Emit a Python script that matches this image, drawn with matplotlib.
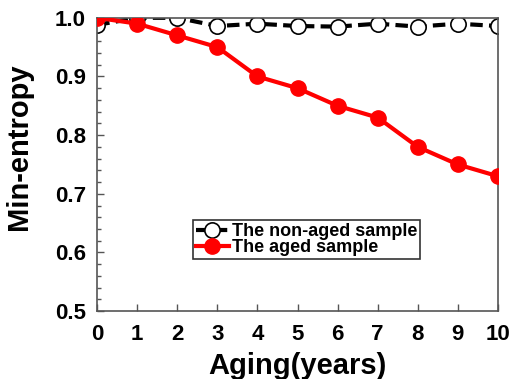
import matplotlib
matplotlib.use("Agg")
import matplotlib.pyplot as plt
from matplotlib.ticker import MultipleLocator

years = [0, 1, 2, 3, 4, 5, 6, 7, 8, 9, 10]
non_aged = [0.988, 1.0, 1.0, 0.986, 0.99, 0.986, 0.985, 0.99, 0.985, 0.99, 0.986]
aged = [1.0, 0.99, 0.97, 0.95, 0.90, 0.88, 0.85, 0.83, 0.78, 0.75, 0.73]
yticks = [0.5, 0.6, 0.7, 0.8, 0.9, 1.0]
xticks = years

plt.rcParams['font.family'] = ['Liberation Sans', 'DejaVu Sans']
plt.rcParams['font.weight'] = 'bold'

fig = plt.figure(figsize=(5.17, 3.79), dpi=100)
ax = fig.add_axes([0.188, 0.179, 0.775, 0.774])

ax.plot(years, non_aged, color='black', lw=3, ls=(0, (3, 1.5)), marker='o',
        ms=11, mfc='white', mec='black', mew=1.2, label='The non-aged sample', zorder=2)
ax.plot(years, aged, color='#ff0000', lw=3, marker='o', ms=11, mfc='#ff0000',
        mec='#ff0000', label='The aged sample', zorder=3)

ax.set_xlim(0, 10)
ax.set_ylim(0.5, 1.0)
ax.set_xticks(xticks)
ax.set_yticks(yticks)
ax.set_yticklabels([f"{v:.1f}" for v in yticks])
ax.yaxis.set_minor_locator(MultipleLocator(0.02))
ax.tick_params(axis='both', which='both', direction='in', labelsize=16, color='#555555')
ax.tick_params(which='major', length=5, width=1)
ax.tick_params(which='minor', length=3, width=1)
ax.tick_params(axis='x', pad=9)
ax.tick_params(axis='y', pad=8)
for lbl in ax.get_xticklabels() + ax.get_yticklabels():
    lbl.set_fontweight('bold')
for s in ax.spines.values():
    s.set_color('#555555')
    s.set_linewidth(1.2)

ax.set_xlabel('Aging(years)', fontsize=21, fontweight='bold', labelpad=5)
ax.set_ylabel('Min-entropy', fontsize=21, fontweight='bold')
ax.yaxis.set_label_coords(-0.16, 0.56)

leg = ax.legend(loc='upper left', bbox_to_anchor=(0.24, 0.31), fontsize=13,
                frameon=True, fancybox=False, edgecolor='black', borderpad=0.15,
                handlelength=1.8, handletextpad=0.2, labelspacing=-0.05, borderaxespad=0)
leg.get_frame().set_linewidth(1.2)
for t in leg.get_texts():
    t.set_fontweight('bold')

fig.savefig('out.png', dpi=100)
